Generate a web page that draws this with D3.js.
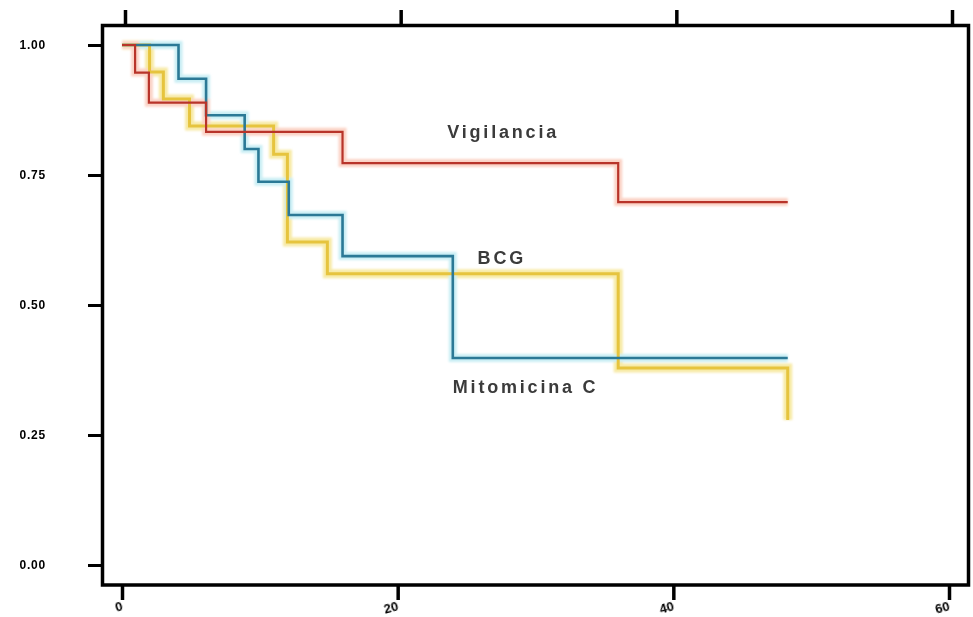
<!DOCTYPE html>
<html>
<head>
<meta charset="utf-8">
<script src="https://cdn.jsdelivr.net/npm/d3@7"></script>
<style>
  html, body { margin: 0; padding: 0; background: #fff; }
  svg { display: block; }
</style>
</head>
<body>
<svg id="chart" width="973" height="617"></svg>
<script>
// Kaplan-Meier survival estimates by treatment arm (months, proportion)
const vigilanciaTime = [0, 0.95, 1.95, 6.1, 16.0, 36.0, 48.3];
const vigilanciaSurv = [1.0, 0.947, 0.889, 0.833, 0.773, 0.698, 0.698];

const bcgTime = [0, 2.0, 3.0, 4.9, 11.0, 12.0, 14.9, 36.0, 48.3, 48.3];
const bcgSurv = [1.0, 0.948, 0.896, 0.844, 0.790, 0.621, 0.560, 0.379, 0.379, 0.279];

const mitomicinaTime = [0, 4.1, 6.1, 8.9, 9.9, 12.1, 16.0, 24.0, 48.3];
const mitomicinaSurv = [1.0, 0.935, 0.865, 0.800, 0.737, 0.673, 0.594, 0.398, 0.398];

const xTicks = [0, 20, 40, 60];
const yTicks = [0, 0.25, 0.5, 0.75, 1.0];

const seriesLabels = ["Vigilancia", "BCG", "Mitomicina C"];

const svg = d3.select("#chart");

const x = d3.scaleLinear().domain([0, 60]).range([122, 949]);
const y = d3.scaleLinear().domain([0, 1]).range([565, 45]);

const defs = svg.append("defs");
defs.append("filter").attr("id", "soft")
  .append("feGaussianBlur").attr("stdDeviation", 0.55);
defs.append("filter").attr("id", "halo")
  .append("feGaussianBlur").attr("stdDeviation", 1.2);

// Y axis (left)
const yAxis = svg.append("g")
  .attr("transform", "translate(101,0)")
  .call(d3.axisLeft(y).tickValues(yTicks).tickSize(13).tickPadding(42)
    .tickFormat(d3.format(".2f")));
yAxis.select(".domain").remove();
yAxis.selectAll(".tick line").attr("stroke", "#000").attr("stroke-width", 3);
yAxis.selectAll(".tick text")
  .attr("font-family", "Liberation Sans, Arial, sans-serif")
  .attr("font-size", 12).attr("font-weight", "bold")
  .attr("letter-spacing", "0.8px").attr("fill", "#000")
  .attr("filter", "url(#soft)");

// X axis (bottom)
const xAxis = svg.append("g")
  .attr("transform", "translate(0,585)")
  .call(d3.axisBottom(x).tickValues(xTicks).tickSize(15).tickFormat(d3.format("d")));
xAxis.select(".domain").remove();
xAxis.selectAll(".tick line").attr("stroke", "#000").attr("stroke-width", 3.5);
xAxis.selectAll(".tick text")
  .attr("font-family", "Liberation Sans, Arial, sans-serif")
  .attr("font-size", 13).attr("font-weight", "bold").attr("fill", "#000")
  .attr("text-anchor", "end")
  .attr("x", 0).attr("y", 0).attr("dy", null)
  .attr("transform", "translate(1,25) rotate(-15)")
  .attr("filter", "url(#soft)");

// X axis (top, ticks only)
const xTop = svg.append("g")
  .attr("transform", "translate(3,25)")
  .call(d3.axisTop(x).tickValues(xTicks).tickSize(15).tickFormat(""));
xTop.select(".domain").remove();
xTop.selectAll(".tick line").attr("stroke", "#000").attr("stroke-width", 3.5);

// Plot frame
svg.append("rect")
  .attr("x", 102.5).attr("y", 25.5)
  .attr("width", 866).attr("height", 559.5)
  .attr("fill", "none").attr("stroke", "#000").attr("stroke-width", 3.5);

const step = d3.line()
  .x(d => x(d[0]))
  .y(d => y(d[1]))
  .curve(d3.curveStepAfter);

const series = [
  { time: bcgTime, surv: bcgSurv, halo: "#f7eaa6", haloW: 9, color: "#e6c43e", w: 3 },
  { time: mitomicinaTime, surv: mitomicinaSurv, halo: "#c9eef4", haloW: 8, color: "#2b7996", w: 2.6 },
  { time: vigilanciaTime, surv: vigilanciaSurv, halo: "#fbd3c6", haloW: 8, color: "#b8342a", w: 2.2 }
];

const pts = s => s.time.map((t, i) => [t, s.surv[i]]);

// soft halos under each curve
svg.append("g").attr("filter", "url(#halo)")
  .selectAll("path").data(series).join("path")
  .attr("d", s => step(pts(s)))
  .attr("fill", "none")
  .attr("stroke", s => s.halo)
  .attr("stroke-width", s => s.haloW)
  .attr("stroke-linejoin", "miter");

svg.append("g")
  .selectAll("path").data(series).join("path")
  .attr("d", s => step(pts(s)))
  .attr("fill", "none")
  .attr("stroke", s => s.color)
  .attr("stroke-width", s => s.w)
  .attr("stroke-linejoin", "miter");

// Curve labels
const labelPos = [
  { t: 23.6, s: 0.822 },
  { t: 25.8, s: 0.579 },
  { t: 24.0, s: 0.331 }
];
svg.append("g").attr("filter", "url(#soft)")
  .selectAll("text").data(seriesLabels).join("text")
  .attr("x", (d, i) => x(labelPos[i].t))
  .attr("y", (d, i) => y(labelPos[i].s))
  .attr("font-family", "Liberation Sans, Arial, sans-serif")
  .attr("font-size", 18).attr("font-weight", "bold")
  .attr("letter-spacing", "2.8px")
  .attr("fill", "#3a3a3a")
  .text(d => d);
</script>
</body>
</html>
